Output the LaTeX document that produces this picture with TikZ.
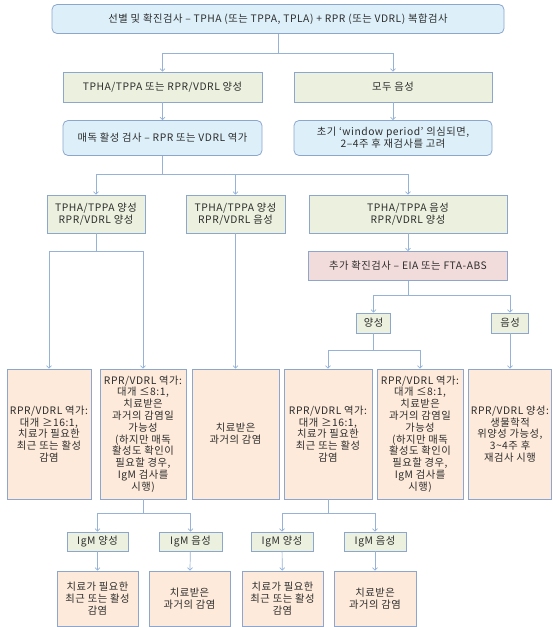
\documentclass[tikz,border=0pt]{standalone}
\usepackage{fontspec}
\setmainfont{Noto Sans CJK KR}[LetterSpace=5]
\usetikzlibrary{arrows.meta}
\definecolor{bluef}{RGB}{221,240,250}
\definecolor{greenf}{RGB}{235,241,222}
\definecolor{peachf}{RGB}{253,234,218}
\definecolor{pinkf}{RGB}{242,220,219}
\definecolor{bord}{RGB}{140,166,205}
\definecolor{lnc}{RGB}{150,178,215}
\definecolor{txt}{RGB}{45,45,45}
\tikzset{
 base/.style={draw=bord, line width=0.8pt, inner sep=0pt, align=center, text=txt},
 bluebox/.style={base, fill=bluef, rounded corners=5pt},
 greenbox/.style={base, fill=greenf},
 peachbox/.style={base, fill=peachf},
 pinkbox/.style={base, fill=pinkf},
 conn/.style={draw=lnc, line width=0.7pt},
 arr/.style={conn, -{Straight Barb[length=2.5pt,width=5pt]}},
}
\newcommand\bx[7]{\node[#2, minimum width=#5pt, minimum height=#6pt] (#1) at (#3,#4) {#7};}
\begin{document}
\begin{tikzpicture}[x=1pt,y=-1pt, font=\fontsize{10.3}{11.8}\selectfont]
\useasboundingbox (0,0) rectangle (552,627);
% boxes
\bx{top}{bluebox}{278}{19}{452}{29}{선별 및 확진검사 – TPHA (또는 TPPA, TPLA) + RPR (또는 VDRL) 복합검사}
\bx{r2l}{greenbox}{162.5}{87}{199}{30}{TPHA/TPPA 또는 RPR/VDRL 양성}
\bx{r2r}{greenbox}{393}{87}{198}{30}{모두 음성}
\bx{r3l}{bluebox}{162.5}{138}{199}{35}{매독 활성 검사 – RPR 또는 VDRL 역가}
\bx{r3r}{bluebox}{393}{138}{198}{35}{초기 ‘window period’ 의심되면,\\2–4주 후 재검사를 고려}
\bx{A}{greenbox}{96}{214}{98}{38}{TPHA/TPPA 양성\\RPR/VDRL 양성}
\bx{B}{greenbox}{235.5}{214}{99}{38}{TPHA/TPPA 양성\\RPR/VDRL 음성}
\bx{C}{greenbox}{408}{214}{198}{38}{TPHA/TPPA 음성\\RPR/VDRL 양성}
\bx{pk}{pinkbox}{408}{266}{199}{29}{추가 확진검사 – EIA 또는 FTA-ABS}
\bx{pos}{greenbox}{373.5}{323}{34}{20}{양성}
\bx{neg}{greenbox}{510}{323}{37}{20}{음성}
\bx{b1}{peachbox}{49}{434}{84}{130}{RPR/VDRL 역가:\\대개 ≥16:1,\\치료가 필요한\\최근 또는 활성\\감염}
\bx{b2}{peachbox}{143}{434}{86}{130}{RPR/VDRL 역가:\\대개 ≤8:1,\\치료받은\\과거의 감염일\\가능성\\(하지만 매독\\활성도 확인이\\필요할 경우,\\IgM 검사를\\시행)}
\bx{b3}{peachbox}{235.5}{434}{87}{130}{치료받은\\과거의 감염}
\bx{b4}{peachbox}{328}{434}{88}{130}{RPR/VDRL 역가:\\대개 ≥16:1,\\치료가 필요한\\최근 또는 활성\\감염}
\bx{b5}{peachbox}{420}{434}{86}{130}{RPR/VDRL 역가:\\대개 ≤8:1,\\치료받은\\과거의 감염일\\가능성\\(하지만 매독\\활성도 확인이\\필요할 경우,\\IgM 검사를\\시행)}
\bx{b6}{peachbox}{510}{434}{83}{130}{RPR/VDRL 양성:\\생물학적\\위양성 가능성,\\3\textasciitilde4주 후\\재검사 시행}
\bx{i1}{greenbox}{97.5}{541.5}{61}{19}{IgM 양성}
\bx{i2}{greenbox}{190.5}{541.5}{63}{19}{IgM 음성}
\bx{i3}{greenbox}{282}{541.5}{62}{19}{IgM 양성}
\bx{i4}{greenbox}{375}{541.5}{62}{19}{IgM 음성}
\bx{f1}{peachbox}{97.5}{598.5}{81}{55}{치료가 필요한\\최근 또는 활성\\감염}
\bx{f2}{peachbox}{189.5}{598.5}{81}{55}{치료받은\\과거의 감염}
\bx{f3}{peachbox}{282.5}{598.5}{81}{55}{치료가 필요한\\최근 또는 활성\\감염}
\bx{f4}{peachbox}{375}{598.5}{82}{55}{치료받은\\과거의 감염}
% junctions
\coordinate (j1) at (278,53);
\coordinate (j2) at (162.5,174);
\coordinate (j3) at (96,251);
\coordinate (j4) at (408,295);
\coordinate (j5) at (373.5,350);
\coordinate (j6) at (143,513);
\coordinate (j7) at (328,513);
% connectors
\draw[conn] (top.south) -- (j1);
\draw[arr] (j1) -| (r2l.north);
\draw[arr] (j1) -| (r2r.north);
\draw[arr] (r2l) -- (r3l);
\draw[arr] (r2r) -- (r3r);
\draw[conn] (r3l.south) -- (j2);
\draw[arr] (j2) -| (A.north);
\draw[arr] (j2) -| (B.north);
\draw[arr] (j2) -| (C.north);
\draw[conn] (A.south) -- (j3);
\draw[arr] (j3) -| (b1.north);
\draw[arr] (j3) -| (b2.north);
\draw[arr] (B) -- (b3);
\draw[arr] (C) -- (pk);
\draw[conn] (pk.south) -- (j4);
\draw[arr] (j4) -| (pos.north);
\draw[arr] (j4) -| (neg.north);
\draw[conn] (pos.south) -- (j5);
\draw[arr] (j5) -| (b4.north);
\draw[arr] (j5) -| (b5.north);
\draw[arr] (neg) -- (b6);
\draw[conn] (b2.south) -- (j6);
\draw[arr] (j6) -| (i1.north);
\draw[arr] (j6) -| (i2.north);
\draw[conn] (b4.south) -- (j7);
\draw[arr] (j7) -| (i3.north);
\draw[arr] (j7) -| (i4.north);
\draw[arr] (i1) -- (f1);
\draw[arr] (i2) -- (f2);
\draw[arr] (i3) -- (f3);
\draw[arr] (i4) -- (f4);
\end{tikzpicture}
\end{document}
